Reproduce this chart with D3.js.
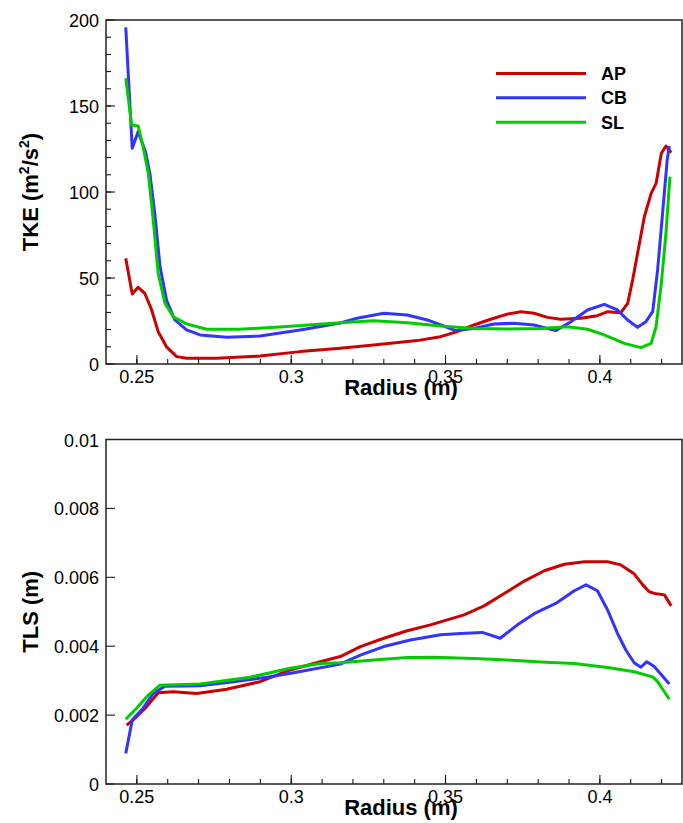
<!DOCTYPE html>
<html>
<head>
<meta charset="utf-8">
<script src="https://cdn.jsdelivr.net/npm/d3@7"></script>
<style>
  body { margin: 0; background: #fff; }
  svg { display: block; font-family: Arial, "Liberation Sans", Helvetica, sans-serif; }
</style>
</head>
<body>
<div id="chart"></div>
<script>
// series names and colours
var seriesNames = ["AP", "CB", "SL"];
var seriesColors = ["#cc0000", "#3333ff", "#00cc00"];

// TKE (m^2/s^2) vs radius (m)
var tkeAP = [[0.2464,61.4],[0.2485,40.7],[0.2504,44.6],[0.2526,41],[0.2548,31.4],[0.2569,18.8],[0.2596,10],[0.2629,4.3],[0.2661,3.3],[0.2759,3.3],[0.2899,4.6],[0.3029,7.2],[0.3159,9.2],[0.3267,11],[0.3408,13.6],[0.3484,15.9],[0.3538,18.8],[0.3592,22.7],[0.3646,26],[0.37,29],[0.3744,30.4],[0.3787,29.5],[0.383,27.1],[0.3873,26],[0.3938,26.6],[0.3992,28.1],[0.4025,30.4],[0.4068,29.8],[0.409,35.3],[0.4106,48.8],[0.4122,64.3],[0.4144,85.6],[0.4166,99.2],[0.4182,105],[0.4199,122.5],[0.4214,126.7],[0.4231,122.9]];
var tkeCB = [[0.2464,195.7],[0.2485,125.4],[0.2504,135.1],[0.2528,123.4],[0.2542,110.9],[0.2558,87.6],[0.2575,56.6],[0.2596,37.2],[0.2623,25.6],[0.2661,19.8],[0.2705,16.9],[0.2791,15.5],[0.2899,16.3],[0.3029,19.8],[0.3159,23.8],[0.3213,26.6],[0.33,29.5],[0.3376,28.5],[0.3441,25.6],[0.3484,22.7],[0.3532,19.4],[0.3592,20.7],[0.3657,23.3],[0.3722,23.7],[0.3787,22.7],[0.3857,19.4],[0.3906,24.6],[0.396,31.4],[0.4014,34.7],[0.4057,31.4],[0.409,25.6],[0.4122,21.3],[0.4149,24.6],[0.4171,30.4],[0.4187,54.7],[0.4203,87.6],[0.4218,118.6],[0.4225,126.7]];
var tkeSL = [[0.2464,166.1],[0.2483,139],[0.2504,138.4],[0.252,126.3],[0.2537,110.9],[0.2553,83.7],[0.2569,52.7],[0.2591,35.3],[0.2618,27.5],[0.2661,23.3],[0.2726,20.2],[0.2834,20.2],[0.2975,21.7],[0.3159,24],[0.3267,25.2],[0.3376,24],[0.3484,22.1],[0.3592,20.7],[0.37,20.3],[0.3808,20.7],[0.3895,21.7],[0.396,20.2],[0.4014,16.9],[0.4079,12],[0.4133,9.5],[0.4166,12],[0.4182,21.7],[0.4199,46.9],[0.4214,76],[0.4227,108.9]];

// TLS (m) vs radius (m)
var tlsAP = [[0.2467,0.00171],[0.2488,0.00186],[0.2531,0.00224],[0.2569,0.00265],[0.2618,0.00268],[0.2694,0.00263],[0.2791,0.00275],[0.2899,0.00297],[0.2997,0.00331],[0.3094,0.00355],[0.3159,0.0037],[0.3224,0.00399],[0.33,0.00423],[0.3376,0.00445],[0.3451,0.00462],[0.356,0.00491],[0.3625,0.00517],[0.369,0.00553],[0.3755,0.00589],[0.382,0.00619],[0.3885,0.00638],[0.395,0.00645],[0.4025,0.00645],[0.4068,0.00636],[0.4111,0.0061],[0.4139,0.00578],[0.416,0.00558],[0.4182,0.00552],[0.4209,0.00549],[0.4231,0.00517]];
var tlsCB = [[0.2464,0.00089],[0.2485,0.00186],[0.252,0.0022],[0.2553,0.00263],[0.2591,0.00284],[0.2705,0.00285],[0.2813,0.00297],[0.2921,0.0031],[0.3008,0.00323],[0.3159,0.00348],[0.3224,0.00374],[0.33,0.00399],[0.3386,0.00418],[0.3484,0.00433],[0.3549,0.00437],[0.3619,0.0044],[0.3677,0.00423],[0.3733,0.00462],[0.3792,0.00497],[0.3857,0.00524],[0.3917,0.00561],[0.3955,0.00578],[0.3992,0.00561],[0.4025,0.00505],[0.4057,0.00437],[0.4084,0.00389],[0.4111,0.00352],[0.4133,0.00339],[0.4152,0.00355],[0.4176,0.00341],[0.4225,0.0029]];
var tlsSL = [[0.2464,0.00188],[0.2499,0.0022],[0.2537,0.00258],[0.2575,0.00287],[0.2705,0.0029],[0.2867,0.0031],[0.2997,0.00336],[0.3094,0.0035],[0.3159,0.00352],[0.3267,0.0036],[0.3376,0.00367],[0.3462,0.00368],[0.3592,0.00364],[0.37,0.0036],[0.3808,0.00354],[0.3917,0.0035],[0.4025,0.00338],[0.4111,0.00326],[0.4171,0.00311],[0.4187,0.00297],[0.4225,0.00246]];

// axis ticks
var xTicks = [0.25, 0.3, 0.35, 0.4];
var xMinorTicks = [0.25, 0.26, 0.27, 0.28, 0.29, 0.3, 0.31, 0.32, 0.33, 0.34, 0.35, 0.36, 0.37, 0.38, 0.39, 0.4, 0.41, 0.42];
var tkeTicks = [0, 50, 100, 150, 200];
var tkeMinorTicks = d3.range(0, 201, 10);
var tlsTicks = [0, 0.002, 0.004, 0.006, 0.008, 0.01];
var tlsTickLabels = ["0", "0.002", "0.004", "0.006", "0.008", "0.01"];

var width = 683, height = 823;
var svg = d3.select("#chart").append("svg")
    .attr("width", width)
    .attr("height", height);

var x = d3.scaleLinear().domain([0.24, 0.4266]).range([106, 682]);

var drawPanel = (opts) => {
    let y = d3.scaleLinear().domain(opts.yDomain).range([opts.bottom, opts.top]);
    let g = svg.append("g");

    // curves
    let line = d3.line().x(d => x(d[0])).y(d => y(d[1]));
    opts.series.forEach((s, i) => {
        g.append("path")
            .datum(s)
            .attr("d", line)
            .attr("fill", "none")
            .attr("stroke", seriesColors[i])
            .attr("stroke-width", 3)
            .attr("stroke-linejoin", "round");
    });

    // ticks point inward, Tecplot style
    g.selectAll(".xminor").data(xMinorTicks).join("line")
        .attr("x1", d => x(d)).attr("x2", d => x(d))
        .attr("y1", opts.bottom).attr("y2", opts.bottom - 5)
        .attr("stroke", "#000");
    g.selectAll(".xmajor").data(xTicks).join("line")
        .attr("x1", d => x(d)).attr("x2", d => x(d))
        .attr("y1", opts.bottom).attr("y2", opts.bottom - 9)
        .attr("stroke", "#000");
    if (opts.yMinor) {
        g.selectAll(".yminor").data(opts.yMinor).join("line")
            .attr("x1", 106).attr("x2", 111)
            .attr("y1", d => y(d)).attr("y2", d => y(d))
            .attr("stroke", "#000");
    }
    g.selectAll(".ymajor").data(opts.yTicks).join("line")
        .attr("x1", 106).attr("x2", 115)
        .attr("y1", d => y(d)).attr("y2", d => y(d))
        .attr("stroke", "#000");

    // frame
    g.append("rect")
        .attr("x", 106).attr("y", opts.top)
        .attr("width", 682 - 106).attr("height", opts.bottom - opts.top)
        .attr("fill", "none")
        .attr("stroke", "#222")
        .attr("stroke-width", 1.5);

    // tick labels
    g.selectAll(".xlab").data(xTicks).join("text")
        .attr("x", d => x(d))
        .attr("y", opts.bottom + 19)
        .attr("text-anchor", "middle")
        .attr("font-size", 18)
        .text(d => d3.format("")(d));
    g.selectAll(".ylab").data(opts.yTicks).join("text")
        .attr("x", 99)
        .attr("y", d => y(d) + 7)
        .attr("text-anchor", "end")
        .attr("font-size", 18)
        .text((d, i) => opts.yLabels[i]);

    // axis titles
    g.append("text")
        .attr("x", 401)
        .attr("y", opts.bottom + 31)
        .attr("text-anchor", "middle")
        .attr("font-size", 22)
        .attr("font-weight", "bold")
        .text("Radius (m)");

    let yt = g.append("text")
        .attr("transform", `translate(38, ${(opts.top + opts.bottom) / 2}) rotate(-90)`)
        .attr("text-anchor", "middle")
        .attr("font-size", 22)
        .attr("font-weight", "bold");
    opts.yTitle(yt);
    return g;
};

var top = drawPanel({
    top: 20, bottom: 364,
    yDomain: [0, 200],
    yTicks: tkeTicks,
    yMinor: tkeMinorTicks,
    yLabels: tkeTicks.map(String),
    series: [tkeAP, tkeCB, tkeSL],
    yTitle: t => {
        t.append("tspan").text("TKE (m");
        t.append("tspan").attr("dy", -9).attr("font-size", 14).text("2");
        t.append("tspan").attr("dy", 9).text("/s");
        t.append("tspan").attr("dy", -9).attr("font-size", 14).text("2");
        t.append("tspan").attr("dy", 9).text(")");
    }
});

drawPanel({
    top: 439.5, bottom: 784,
    yDomain: [0, 0.01],
    yTicks: tlsTicks,
    yMinor: null,
    yLabels: tlsTickLabels,
    series: [tlsAP, tlsCB, tlsSL],
    yTitle: t => t.text("TLS (m)")
});

// legend (top panel only)
var legend = svg.append("g").attr("class", "legend");
var legendY = [73.5, 97.8, 122.2];
seriesNames.forEach((name, i) => {
    legend.append("line")
        .attr("x1", 496).attr("x2", 586)
        .attr("y1", legendY[i]).attr("y2", legendY[i])
        .attr("stroke", seriesColors[i])
        .attr("stroke-width", 3);
    legend.append("text")
        .attr("x", 601)
        .attr("y", legendY[i] + 6.5)
        .attr("font-size", 18)
        .attr("font-weight", "bold")
        .text(name);
});
</script>
</body>
</html>
